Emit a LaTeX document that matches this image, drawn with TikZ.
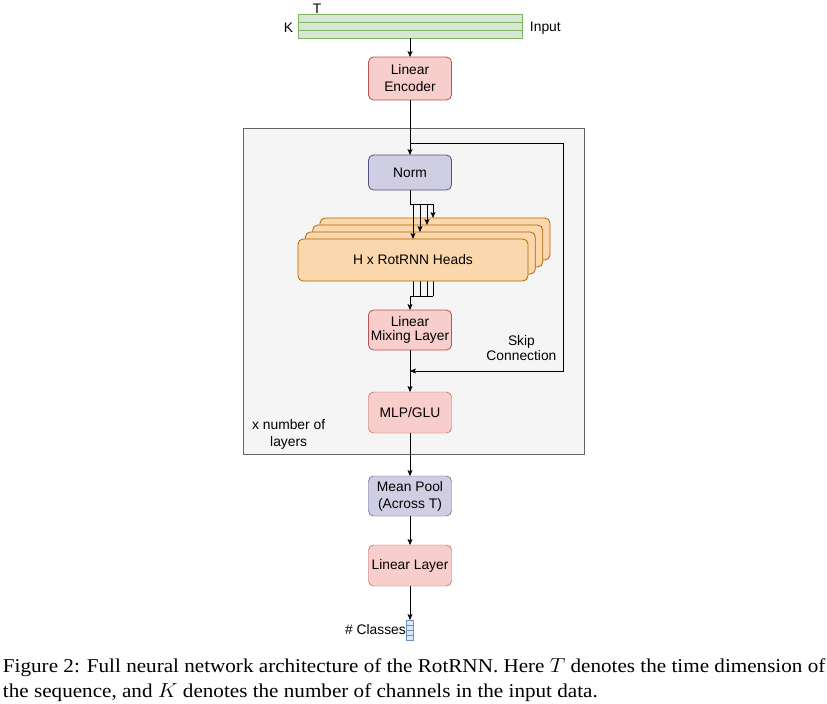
\documentclass[tikz,border=0pt]{standalone}
\usepackage{fontspec}
\setmainfont{Liberation Sans}
\newfontfamily\capfont{Liberation Serif}
\usepackage{graphicx}
\usetikzlibrary{positioning}
\usetikzlibrary{arrows.meta}
\definecolor{redfill}{HTML}{F8CECC}
\definecolor{reddraw}{HTML}{B85450}
\definecolor{purfill}{HTML}{D0CEE2}
\definecolor{purdraw}{HTML}{56517E}
\definecolor{orafill}{HTML}{FAD7AC}
\definecolor{oradraw}{HTML}{B46504}
\definecolor{grnfill}{HTML}{D5E8D4}
\definecolor{grndraw}{HTML}{82B366}
\definecolor{blufill}{HTML}{DAE8FC}
\definecolor{bludraw}{HTML}{6C8EBF}
\definecolor{layfill}{HTML}{F5F5F5}
\definecolor{laydraw}{HTML}{666666}
\pgfdeclarelayer{bg}
\pgfdeclarelayer{mid}
\pgfsetlayers{bg,mid,main}

\begin{document}
\begin{tikzpicture}[
            > = {Stealth[length = 5pt, width = 4.2pt, inset = 1pt]}, % arrow head style
            line width = 0.7pt,
            font = \fontsize{11.8}{14.5}\selectfont,
            every node/.style = {inner sep = 0pt, outer sep = 0pt},
            block/.style = {draw, rounded corners = 0.15cm, align = center,
                minimum width = 2.49cm, minimum height = 1.23cm},
            redblock/.style = {block, fill = redfill, draw = reddraw},
            purblock/.style = {block, fill = purfill, draw = purdraw},
            head/.style = {draw = oradraw, fill = orafill, rounded corners = 0.15cm,
                minimum width = 6.9cm, minimum height = 1.26cm},
            captext/.style = {anchor = west, font = \capfont\fontsize{16.7}{18}\selectfont}
            ]

        \useasboundingbox (-12.3,0.78) rectangle (12.51,-20.34);

	% input data
        \node[draw = grndraw, fill = grnfill, minimum width = 6.72cm,
              minimum height = 0.72cm] (inp) at (0,0) {};
        \draw[grndraw] (inp.west |- 0,0.12) -- (inp.east |- 0,0.12);
        \draw[grndraw] (inp.west |- 0,-0.12) -- (inp.east |- 0,-0.12);
        \node (K) [left = 0.15cm of inp.west, yshift = -0.06cm] {K};
        \node (T) [anchor = south] at ([xshift = 0.57cm, yshift = 0.03cm]inp.north west) {T};
        \node (lab) [right = 0.24cm of inp.east, yshift = -0.06cm] {Input};

	% encoder and norm
        \node[redblock, minimum height = 1.29cm] (enc) [below = 0.57cm of inp] {Linear\\Encoder};
        \path[->] (inp) edge (enc);

        \node[purblock, minimum height = 1.05cm] (norm) [below = 1.65cm of enc] {Norm};
        \coordinate[below = 1.29cm of enc.south] (skipA);
        \draw[->] (enc) -- (norm);

	% heads
        \node[head] (head3) [below = 1.47cm of norm, xshift = 0.75cm, yshift = 0.63cm] {};
        \node[head] (head2) [below = 1.47cm of norm, xshift = 0.53cm, yshift = 0.42cm] {};
        \node[head] (head1) [below = 1.47cm of norm, xshift = 0.31cm, yshift = 0.21cm] {};
        \node[head] (head0) [below = 1.47cm of norm, xshift = 0.09cm] {H x RotRNN Heads};

        \coordinate[below = 0.42cm of norm.south] (fanA);
        \draw (norm) -- (fanA) -- ++(0.69,0);
        \foreach \i/\dx in {0/0.09, 1/0.3, 2/0.51, 3/0.69}
            \draw[->] ([xshift = \dx cm]fanA) -- ([xshift = \dx cm]fanA |- head\i.north);

	% mixing
        \node[redblock, minimum height = 1.2cm] (mix) [below = 0.87cm of head0, xshift = -0.09cm] {Linear\\[-0.4ex]Mixing Layer};
        \coordinate[above = 0.42cm of mix.north] (fanB);
        \begin{pgfonlayer}{mid}
        \foreach \i/\dx in {0/0.09, 1/0.3, 2/0.51, 3/0.69}
            \draw ([xshift = \dx cm]fanB |- head\i.south) -- ([xshift = \dx cm]fanB);
        \end{pgfonlayer}
        \draw (fanB) -- ++(0.69,0);
        \draw[->] (fanB) -- (mix);

	% mlp
        \node[redblock] (mlp) [below = 1.26cm of mix] {MLP/GLU};
        \draw[->] (mix) -- (mlp);

	% skip connection
        \coordinate[below = 0.63cm of mix.south] (skipB);
        \coordinate[right = 4.59cm of skipA] (skipC);
        \draw[->] (skipA) -- (skipC) |- (skipB);
        \node (skip) [right = 1.05cm of mix, yshift = -0.54cm, align = center] {Skip\\[-0.3ex]Connection};

	% layer box
        \begin{pgfonlayer}{bg}
        \draw[laydraw, fill = layfill] (-5.01,-3.06) rectangle (5.22,-12.84);
        \end{pgfonlayer}
        \node (nl) [left = 1.3cm of mlp, yshift = -0.66cm, align = center] {x number of\\layers};

	% output
        \node[purblock, minimum height = 1.2cm] (pool) [below = 1.29cm of mlp] {Mean Pool\\(Across T)};
        \draw[->] (mlp) -- (pool);

        \node[redblock] (lin) [below = 0.87cm of pool] {Linear Layer};
        \draw[->] (pool) -- (lin);

        \node[draw = bludraw, fill = blufill, minimum width = 0.21cm, minimum height = 0.6cm,
              line width = 0.5pt] (vec) [below = 1.02cm of lin] {};
        \foreach \k in {1,2,3}
            \draw[bludraw, line width = 0.5pt] ([yshift = -0.15*\k cm]vec.north west) -- ([yshift = -0.15*\k cm]vec.north east);
        \draw[->] (lin) -- (vec);
        \node (cls) [left = 0.02cm of vec] {\# Classes};

	% caption
        \node[captext] (cap1) at (-12.21,-19.26)
            {\scalebox{1.08}[1]{Figure 2: Full neural network architecture of the RotRNN. Here $T$ denotes the time dimension of}};
        \node[captext] (cap2) at (-12.21,-20.01)
            {\scalebox{1.08}[1]{the sequence, and $K$ denotes the number of channels in the input data.}};

\end{tikzpicture}
\end{document}
